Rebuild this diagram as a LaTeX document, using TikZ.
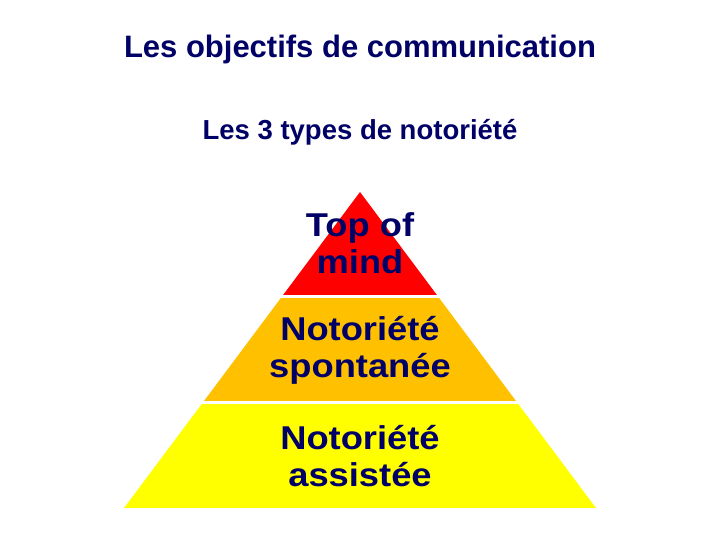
\documentclass[tikz,border=0pt]{standalone}
\usepackage{fontspec}
\setmainfont{Liberation Sans}
\newfontfamily\widesans{Liberation Sans}[FakeStretch=1.1]
\usepackage{tikz}
\usetikzlibrary{positioning,calc}
\definecolor{titlenavy}{RGB}{0,0,102}
\definecolor{toporange}{RGB}{255,192,0}
\definecolor{topyellow}{RGB}{255,255,0}

\begin{document}
\begin{tikzpicture}[
  x=1pt, y=1pt,
  every node/.style = {text=titlenavy, align=center},
  titletxt/.style   = {font=\fontsize{31}{36}\selectfont\bfseries},
  subtxt/.style     = {font=\fontsize{27.5}{30}\selectfont\bfseries},
  layertxt/.style   = {font=\widesans\fontsize{33}{37}\selectfont\bfseries},
  sep/.style        = {draw=white, line width=3pt},
]
\useasboundingbox (0,0) rectangle (720,540);

%% -- Corners of the pyramid --------------------------------------------------
\coordinate (apex)  at (360,348);
\coordinate (bl)    at (124,32);
\coordinate (br)    at (596,32);
\coordinate (l1)    at (282,243.5); % red / orange
\coordinate (r1)    at (438,243.5);
\coordinate (l2)    at (202.5,137); % orange / yellow
\coordinate (r2)    at (517.5,137);

%% -- Layers ------------------------------------------------------------------
\fill[topyellow] (bl) -- (br) -- (r2) -- (l2) -- cycle;
\fill[toporange] (l2) -- (r2) -- (r1) -- (l1) -- cycle;
\fill[red]       (l1) -- (r1) -- (apex) -- cycle;
\draw[sep] ($(l1)+(-3,0)$) -- ($(r1)+(3,0)$);
\draw[sep] ($(l2)+(-3,0)$) -- ($(r2)+(3,0)$);

%% -- Texts -------------------------------------------------------------------
\node[titletxt] (title) at (360,491) {Les objectifs de communication};
\node[subtxt]   (sub)   at (360,408) {Les 3 types de notoriété};
\node[layertxt] (top)   at (360,297) {Top of\\mind};
\node[layertxt] (spont) at (360,190) {Notoriété\\spontanée};
\node[layertxt] (assis) at (360,84)  {Notoriété\\assistée};

\end{tikzpicture}
\end{document}
